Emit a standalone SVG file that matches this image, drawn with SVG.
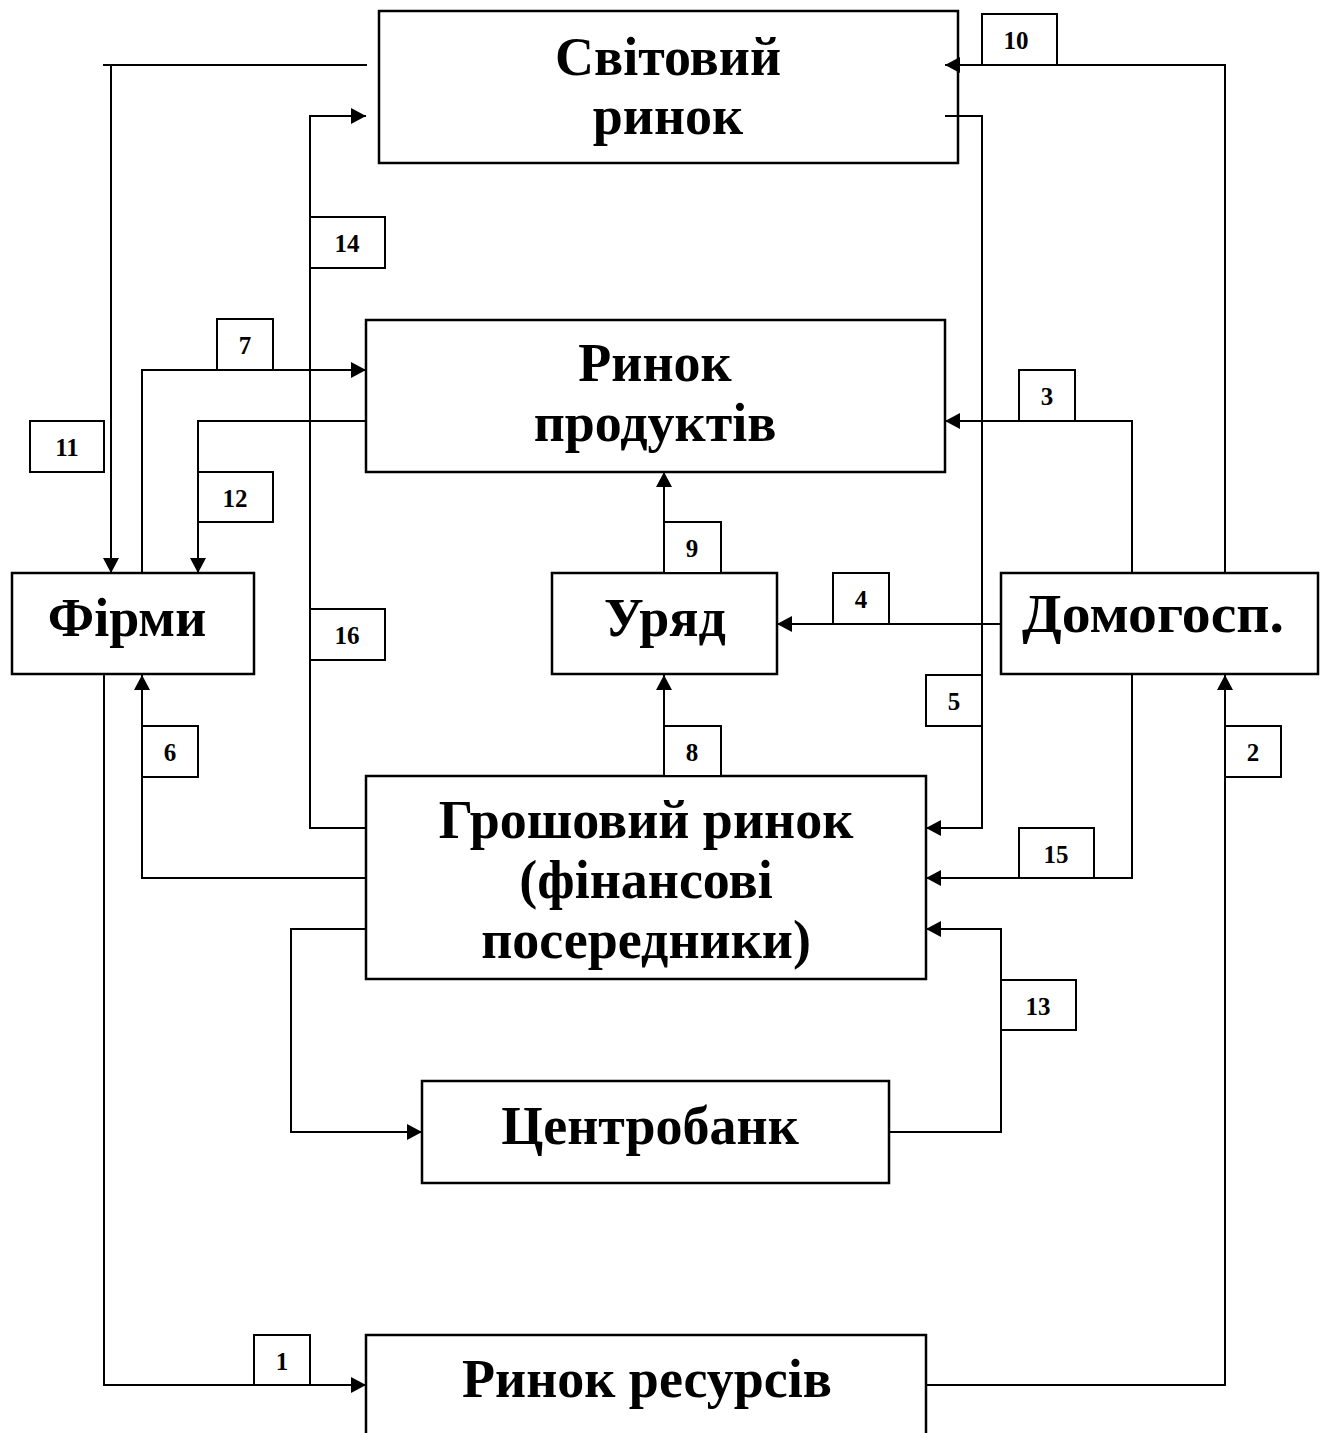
<svg xmlns="http://www.w3.org/2000/svg" width="1328" height="1433" viewBox="0 0 1328 1433">
<style>
.node rect{fill:none;stroke:#000;stroke-width:2.5}
.node text{font-family:"Liberation Serif","Times New Roman",serif;font-weight:bold;font-size:54px;text-anchor:middle;fill:#000}
.lbl rect{fill:#fff;stroke:#000;stroke-width:2}
.lbl text{font-family:"Liberation Serif","Times New Roman",serif;font-weight:bold;font-size:25px;text-anchor:middle;fill:#000}
.conn path{fill:none;stroke:#000;stroke-width:2}
.conn .a{marker-end:url(#arr)}
</style>
<defs>
<marker id="arr" markerUnits="userSpaceOnUse" markerWidth="16" markerHeight="16" refX="15" refY="8" orient="auto">
<path d="M0,0 L15,8 L0,16 z" fill="#000"/>
</marker>
</defs>
<rect width="1328" height="1433" fill="#fff"/>
<g id="svitovyi" class="node"><rect x="379" y="11" width="579" height="152"/><text x="668" y="75">Світовий</text><text x="668" y="134">ринок</text></g>
<g id="produkty" class="node"><rect x="366" y="320" width="579" height="152"/><text x="655" y="381">Ринок</text><text x="655" y="441">продуктів</text></g>
<g id="firmy" class="node"><rect x="12" y="573" width="242" height="101"/><text x="127" y="636">Фірми</text></g>
<g id="uriad" class="node"><rect x="552" y="573" width="225" height="101"/><text x="665" y="636">Уряд</text></g>
<g id="domohosp" class="node"><rect x="1001" y="573" width="317" height="101"/><text x="1153" y="632" textLength="262" lengthAdjust="spacingAndGlyphs">Домогосп.</text></g>
<g id="hroshovyi" class="node"><rect x="366" y="776" width="560" height="203"/><text x="646" y="838">Грошовий ринок</text><text x="646" y="898">(фінансові</text><text x="646" y="958">посередники)</text></g>
<g id="tsentrobank" class="node"><rect x="422" y="1081" width="467" height="102"/><text x="650" y="1144">Центробанк</text></g>
<g id="resursy" class="node"><rect x="366" y="1335" width="560" height="110"/><text x="647" y="1397">Ринок ресурсів</text></g>
<g id="connectors" class="conn">
<path d="M367,65 H103"/>
<path class="a" d="M111,65 V573"/>
<path class="a" d="M366,828 H310 V116 H366"/>
<path class="a" d="M1225,573 V65 H945"/>
<path class="a" d="M945,116 H982 V828 H926"/>
<path class="a" d="M142,573 V370 H366"/>
<path class="a" d="M366,421 H198 V573"/>
<path class="a" d="M1132,573 V421 H945"/>
<path class="a" d="M664,573 V472"/>
<path class="a" d="M1001,624 H777"/>
<path class="a" d="M664,776 V675"/>
<path class="a" d="M366,878 H142 V675"/>
<path class="a" d="M1132,674 V878 H926"/>
<path class="a" d="M889,1132 H1001 V929 H926"/>
<path class="a" d="M366,929 H291 V1132 H422"/>
<path class="a" d="M104,675 V1385 H366"/>
<path class="a" d="M926,1385 H1225 V675"/>
</g>
<g id="labels" class="lbl">
<g id="l1"><rect x="254" y="1335" width="56" height="50"/><text x="282" y="1370">1</text></g>
<g id="l2"><rect x="1225" y="726" width="56" height="51"/><text x="1253" y="761">2</text></g>
<g id="l3"><rect x="1019" y="370" width="56" height="51"/><text x="1047" y="405">3</text></g>
<g id="l4"><rect x="833" y="573" width="56" height="51"/><text x="861" y="608">4</text></g>
<g id="l5"><rect x="926" y="675" width="56" height="51"/><text x="954" y="710">5</text></g>
<g id="l6"><rect x="142" y="726" width="56" height="51"/><text x="170" y="761">6</text></g>
<g id="l7"><rect x="217" y="319" width="56" height="51"/><text x="245" y="354">7</text></g>
<g id="l8"><rect x="664" y="726" width="57" height="50"/><text x="692" y="761">8</text></g>
<g id="l9"><rect x="664" y="522" width="57" height="51"/><text x="692" y="557">9</text></g>
<g id="l10"><rect x="982" y="14" width="75" height="51"/><text x="1016" y="49">10</text></g>
<g id="l11"><rect x="30" y="421" width="74" height="51"/><text x="67" y="456">11</text></g>
<g id="l12"><rect x="198" y="472" width="75" height="50"/><text x="235" y="507">12</text></g>
<g id="l13"><rect x="1001" y="980" width="75" height="50"/><text x="1038" y="1015">13</text></g>
<g id="l14"><rect x="310" y="217" width="75" height="51"/><text x="347" y="252">14</text></g>
<g id="l15"><rect x="1019" y="828" width="75" height="50"/><text x="1056" y="863">15</text></g>
<g id="l16"><rect x="310" y="609" width="75" height="51"/><text x="347" y="644">16</text></g>
</g>
</svg>
